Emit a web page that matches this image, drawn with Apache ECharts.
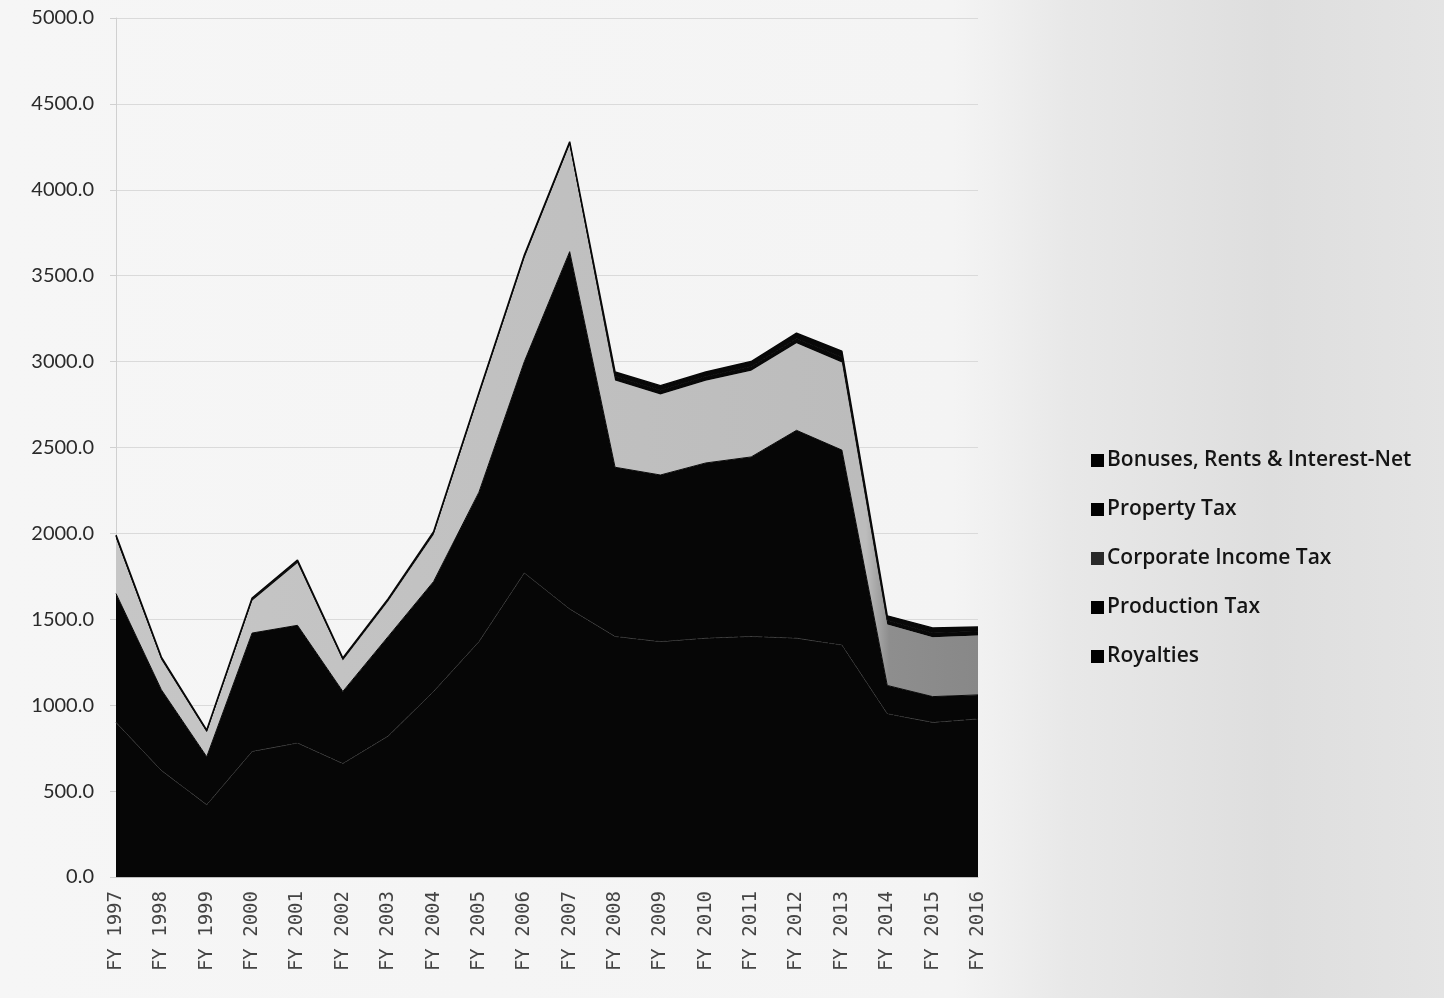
<!DOCTYPE html>
<html>
<head>
<meta charset="utf-8">
<script src="https://cdn.jsdelivr.net/npm/echarts@6/dist/echarts.min.js"></script>
<style>
  html, body { margin: 0; padding: 0; }
  body {
    background: linear-gradient(to right, #f6f6f6 0%, #f4f4f4 66%, #e8e8e8 74%, #dedede 88%, #e4e4e4 100%);
  }
  #chart { width: 1444px; height: 998px; }
</style>
</head>
<body>
<div id="chart"></div>
<script>
// 财年
const years = [
  "FY 1997", "FY 1998", "FY 1999", "FY 2000", "FY 2001", "FY 2002", "FY 2003",
  "FY 2004", "FY 2005", "FY 2006", "FY 2007", "FY 2008", "FY 2009", "FY 2010",
  "FY 2011", "FY 2012", "FY 2013", "FY 2014", "FY 2015", "FY 2016"
];

// 各项收入（自下而上堆叠）
const royalties = [900, 620, 420, 730, 780, 660, 820, 1080, 1370, 1770, 1560, 1400, 1370, 1390, 1400, 1390, 1350, 950, 900, 920];
const productionTax = [750, 470, 280, 690, 685, 420, 580, 640, 870, 1230, 2080, 985, 970, 1020, 1045, 1210, 1135, 165, 150, 140];
const corporateIncomeTax = [322, 175, 143, 188, 362, 180, 205, 272, 562, 602, 622, 505, 468, 478, 502, 507, 510, 355, 345, 345];
const propertyTax = [10, 8, 6, 8, 10, 8, 8, 10, 10, 10, 10, 25, 25, 25, 25, 28, 30, 25, 25, 25];
const bonusesRents = [8, 7, 6, 8, 8, 7, 7, 8, 8, 8, 8, 25, 27, 27, 28, 30, 35, 25, 30, 25];

const yTicks = { min: 0, max: 5000, interval: 500 };

const chart = echarts.init(document.getElementById("chart"));

function area(name, data, color, extra) {
  return Object.assign({
    name: name,
    type: "line",
    stack: "total",
    data: data,
    symbol: "none",
    lineStyle: { width: 1, color: "#080808" },
    itemStyle: { color: "#000" },
    areaStyle: { color: color, opacity: 1 }
  }, extra || {});
}

// 浅灰色带，2014 年后颜色变深
const corpColor = new echarts.graphic.LinearGradient(0, 0, 1, 0, [
  { offset: 0, color: "#c6c6c6" },
  { offset: 0.87, color: "#bcbcbc" },
  { offset: 0.897, color: "#8e8e8e" },
  { offset: 1, color: "#888888" }
]);

const series = [
  area("Royalties", royalties, "#060606", {
    lineStyle: { width: 1, color: "#2e2e2e", type: "dashed" }
  }),
  area("Production Tax", productionTax, "#060606"),
  area("Corporate Income Tax", corporateIncomeTax, corpColor, {
    lineStyle: { width: 0 },
    itemStyle: { color: "#2a2a2a" }
  }),
  area("Property Tax", propertyTax, "#080808"),
  area("Bonuses, Rents & Interest-Net", bonusesRents, "#080808", {
    lineStyle: { width: 1.5, color: "#080808" }
  })
];

chart.setOption({
  backgroundColor: "transparent",
  animation: false,
  grid: { left: 116, right: 466, top: 18, bottom: 121 },
  legend: {
    orient: "vertical",
    left: 1086,
    top: 445,
    itemWidth: 13,
    itemHeight: 13,
    itemGap: 28,
    icon: "rect",
    textStyle: {
      fontFamily: "Open Sans",
      fontWeight: 600,
      fontSize: 21,
      color: "#141414",
      padding: [0, 0, 0, -2]
    },
    data: [
      "Bonuses, Rents & Interest-Net",
      "Property Tax",
      { name: "Corporate Income Tax", itemStyle: { color: "#2a2a2a" } },
      "Production Tax",
      "Royalties"
    ]
  },
  xAxis: {
    type: "category",
    boundaryGap: false,
    data: years,
    axisLine: { lineStyle: { color: "#bdbdbd" } },
    axisTick: { show: false },
    axisLabel: {
      rotate: 90,
      margin: 14,
      interval: 0,
      fontFamily: "DejaVu Sans Mono",
      fontSize: 19,
      color: "#444"
    }
  },
  yAxis: {
    type: "value",
    min: yTicks.min,
    max: yTicks.max,
    interval: yTicks.interval,
    axisLine: { show: true, lineStyle: { color: "#d0d0d0" } },
    axisTick: { show: true, length: 6, lineStyle: { color: "#d0d0d0" } },
    splitLine: { lineStyle: { color: "#dadada", width: 1 } },
    axisLabel: {
      margin: 22,
      fontFamily: "Lato",
      fontSize: 20,
      color: "#2a2a2a",
      formatter: (v) => v.toFixed(1)
    }
  },
  series: series
});
</script>
</body>
</html>
